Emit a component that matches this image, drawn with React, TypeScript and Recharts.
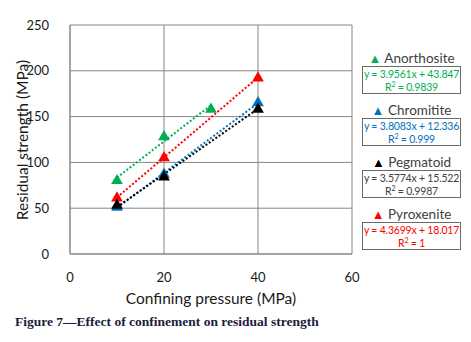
import {
  CartesianGrid,
  ComposedChart,
  Line,
  Scatter,
  XAxis,
  YAxis,
  ZAxis,
} from 'recharts';

const seriesNames = ['Anorthosite', 'Chromitite', 'Pegmatoid', 'Pyroxenite'];
const seriesColors = ['#00b050', '#0070c0', '#000000', '#ff0000'];

const anorthosite = [
  { x: 10, y: 80 },
  { x: 20, y: 128 },
  { x: 30, y: 158 },
];
const chromitite = [
  { x: 10, y: 51 },
  { x: 20, y: 87 },
  { x: 40, y: 165 },
];
const pegmatoid = [
  { x: 10, y: 53 },
  { x: 20, y: 84 },
  { x: 40, y: 158 },
];
const pyroxenite = [
  { x: 10, y: 61 },
  { x: 20, y: 105 },
  { x: 40, y: 192 },
];

// trendline end points, as drawn
const anorthositeTrend = [
  { x: 10, y: 83.4 },
  { x: 30, y: 162.5 },
];
const chromititeTrend = [
  { x: 10, y: 50.4 },
  { x: 40, y: 164.7 },
];
const pegmatoidTrend = [
  { x: 10, y: 51.3 },
  { x: 40, y: 158.6 },
];
const pyroxeniteTrend = [
  { x: 10, y: 61.7 },
  { x: 40, y: 192.8 },
];

const equations = [
  'y = 3.9561x + 43.847',
  'y = 3.8083x + 12.336',
  'y = 3.5774x + 15.522',
  'y = 4.3699x + 18.017',
];
const rSquared = ['0.9839', '0.999', '0.9987', '1'];

const xTicks = [0, 20, 40, 60];
const yTicks = [0, 50, 100, 150, 200, 250];

const points = [anorthosite, chromitite, pegmatoid, pyroxenite];
const trends = [anorthositeTrend, chromititeTrend, pegmatoidTrend, pyroxeniteTrend];
const drawOrder = [0, 3, 1, 2];

const font = 'Lato, "Open Sans", sans-serif';
const gridColor = '#868686';

function EquationLegend() {
  return (
    <div style={{ position: 'absolute', left: 362, top: 50, width: 99, fontFamily: font }}>
      {seriesNames.map((name, i) => (
        <div key={name} style={{ marginBottom: 8 }}>
          <div style={{ textAlign: 'center', fontSize: 13.5, lineHeight: '16px', color: '#404040' }}>
            <span style={{ color: seriesColors[i], fontSize: 13 }}>▲</span>{' '}{name}
          </div>
          <div
            style={{
              border: '1px solid #6b6b6b',
              height: 28,
              boxSizing: 'border-box',
              textAlign: 'center',
              fontSize: 10.5,
              lineHeight: '12.5px',
              paddingTop: 1,
              color: i === 2 ? '#404040' : seriesColors[i],
              whiteSpace: 'nowrap',
              letterSpacing: -0.2,
            }}
          >
            <div>{equations[i]}</div>
            <div>
              R<sup style={{ fontSize: 7, lineHeight: 0 }}>2</sup> = {rSquared[i]}
            </div>
          </div>
        </div>
      ))}
    </div>
  );
}

export default function App() {
  return (
    <div style={{ position: 'absolute', left: 0, top: 0, width: 471, height: 342, background: '#fff' }}>
      <ComposedChart
        width={471}
        height={310}
        margin={{ top: 25, right: 119, bottom: 2, left: 0 }}
        style={{ fontFamily: font }}
      >
        <CartesianGrid stroke={gridColor} strokeWidth={1} />
        <XAxis
          type="number"
          dataKey="x"
          domain={[0, 60]}
          ticks={xTicks}
          interval={0}
          height={54}
          tickLine={false}
          tickMargin={13}
          axisLine={{ stroke: gridColor }}
          tick={{ fill: '#1a1a1a', fontSize: 13 }}
          label={{
            value: 'Confining pressure (MPa)',
            position: 'insideBottom',
            offset: 4,
            fill: '#1a1a1a',
            fontSize: 15.5,
          }}
        />
        <YAxis
          type="number"
          dataKey="y"
          domain={[0, 250]}
          ticks={yTicks}
          interval={0}
          width={70}
          tickLine={false}
          tickMargin={15}
          axisLine={{ stroke: gridColor }}
          tick={{ fill: '#1a1a1a', fontSize: 13 }}
        />
        <ZAxis range={[60, 60]} />
        {drawOrder.map((i) => (
          <Line
            key={'t' + i}
            data={trends[i]}
            dataKey="y"
            type="linear"
            stroke={seriesColors[i]}
            strokeWidth={2}
            strokeDasharray="2 2"
            dot={false}
            activeDot={false}
            isAnimationActive={false}
          />
        ))}
        {drawOrder.map((i) => (
          <Scatter
            key={'s' + i}
            name={seriesNames[i]}
            data={points[i]}
            fill={seriesColors[i]}
            shape="triangle"
            isAnimationActive={false}
          />
        ))}
      </ComposedChart>
      <div
        style={{
          position: 'absolute',
          left: 22,
          top: 140,
          transform: 'translate(-50%, -50%) rotate(-90deg)',
          fontFamily: font,
          fontSize: 15.5,
          color: '#1a1a1a',
          whiteSpace: 'nowrap',
        }}
      >
        Residual strength (MPa)
      </div>
      <EquationLegend />
      <div
        style={{
          position: 'absolute',
          left: 15,
          top: 314,
          fontFamily: '"Liberation Serif", serif',
          fontWeight: 'bold',
          fontSize: 13.5,
          color: '#1c1c3c',
          whiteSpace: 'nowrap',
        }}
      >
        Figure 7—Effect of confinement on residual strength
      </div>
    </div>
  );
}
